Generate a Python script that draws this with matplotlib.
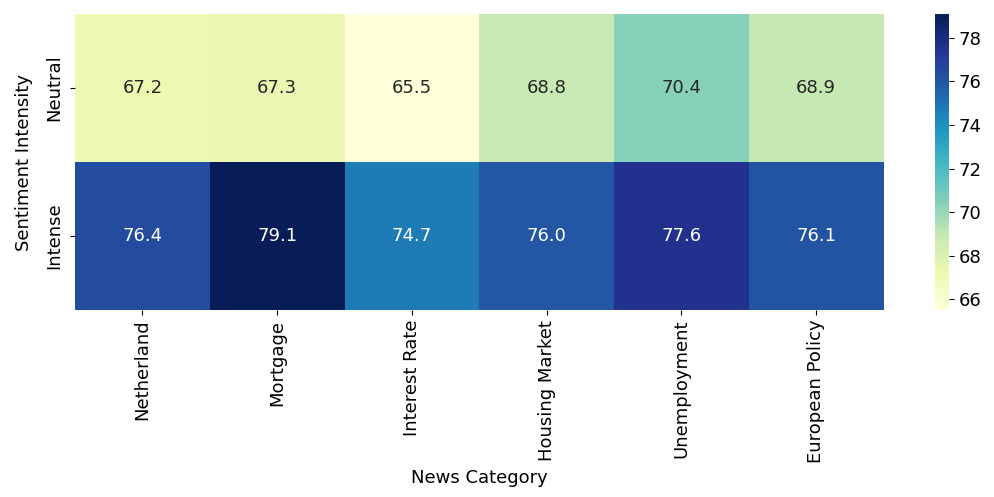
import matplotlib
matplotlib.use('Agg')
import matplotlib.pyplot as plt
import seaborn as sns
import pandas as pd

categories = ['Netherland', 'Mortgage', 'Interest Rate', 'Housing Market', 'Unemployment', 'European Policy']
intensities = ['Neutral', 'Intense']
neutral_scores = [67.2, 67.3, 65.5, 68.8, 70.4, 68.9]
intense_scores = [76.4, 79.1, 74.7, 76.0, 77.6, 76.1]

data = pd.DataFrame([neutral_scores, intense_scores], index=intensities, columns=categories)

fs = 13
fig = plt.figure(figsize=(9.95, 4.97), dpi=100)
ax = fig.add_axes([0.0754, 0.376, 0.8126, 0.596])
cax = fig.add_axes([0.9397, 0.376, 0.0141, 0.596])
sns.heatmap(data, annot=True, fmt='.1f', cmap='YlGnBu', ax=ax, cbar_ax=cax,
            annot_kws={'fontsize': fs})
ax.set_xlabel('News Category', fontsize=fs)
ax.set_ylabel('Sentiment Intensity', fontsize=fs, labelpad=9)
ax.tick_params(axis='both', labelsize=fs)
ax.tick_params(axis='y', pad=5)
plt.setp(ax.get_xticklabels(), rotation=90)
plt.setp(ax.get_yticklabels(), rotation=90, va='center')
cax.tick_params(labelsize=fs)
cax.set_yticks([66, 68, 70, 72, 74, 76, 78])
fig.savefig('out.png', dpi=100)
plt.close(fig)
